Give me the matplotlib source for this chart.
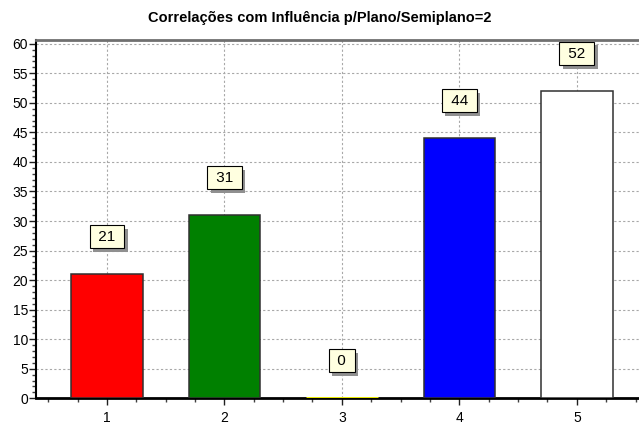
import matplotlib
matplotlib.use("Agg")
import matplotlib.pyplot as plt
import matplotlib.patheffects as pe
from matplotlib.ticker import MultipleLocator

categories = [1, 2, 3, 4, 5]
values = [21, 31, 0, 44, 52]
bar_colors = ["#ff0000", "#008000", "#ffff00", "#0000ff", "#ffffff"]
title = "Correlações com Influência p/Plano/Semiplano=2"

plt.rcParams["font.family"] = ["Liberation Sans", "DejaVu Sans"]

fig = plt.figure(figsize=(6.39, 4.25), dpi=100)
ax = fig.add_axes([0.057, 0.0628, 0.956, 0.844])

# a zero-height bar only shows as its edge, so give that one a yellow edge
edge_colors = ["#303030" if v > 0 else "#ffff00" for v in values]
edge_widths = [1.1 if v > 0 else 2.0 for v in values]
ax.bar(categories, values, width=0.61, color=bar_colors,
       edgecolor=edge_colors, linewidth=edge_widths, zorder=3)

ax.set_xlim(0.4, 5.6)
ax.set_ylim(0, 60.7)
ax.xaxis.set_major_locator(MultipleLocator(1))
ax.xaxis.set_minor_locator(MultipleLocator(0.25))
ax.yaxis.set_major_locator(MultipleLocator(5))
ax.yaxis.set_minor_locator(MultipleLocator(1))
ax.tick_params(axis="both", which="major", direction="out", length=5,
               width=1, labelsize=10, color="#202020")
ax.tick_params(axis="both", which="minor", direction="out", length=3,
               width=1, color="#404040")
ax.tick_params(axis="x", pad=4)
ax.tick_params(axis="y", pad=1)

ax.grid(True, which="major", color="#a8a8a8", linestyle=(0, (2, 2)),
        linewidth=0.8, zorder=0)

ax.spines["right"].set_visible(False)
ax.spines["top"].set_color("#707070")
ax.spines["top"].set_linewidth(2)
ax.spines["left"].set_color("black")
ax.spines["left"].set_linewidth(1.5)
ax.spines["bottom"].set_color("black")
ax.spines["bottom"].set_linewidth(2)
ax.spines["bottom"].set_zorder(2.5)

for x, v in zip(categories, values):
    t = ax.annotate(f" {v} ", (x, v), xytext=(0, 27), textcoords="offset points",
                    ha="center", va="center", fontsize=11, color="black",
                    bbox=dict(boxstyle="square,pad=0.3", fc="#ffffe0",
                              ec="black", lw=0.8),
                    zorder=6)
    t.get_bbox_patch().set_path_effects([
        pe.SimplePatchShadow(offset=(2.5, -2.5), shadow_rgbFace="#909090",
                             alpha=1.0),
        pe.Normal(),
    ])

fig.text(0.5, 0.958, title, ha="center", va="center", fontsize=10.5,
         fontweight="bold")

fig.savefig("out.png", dpi=100)
